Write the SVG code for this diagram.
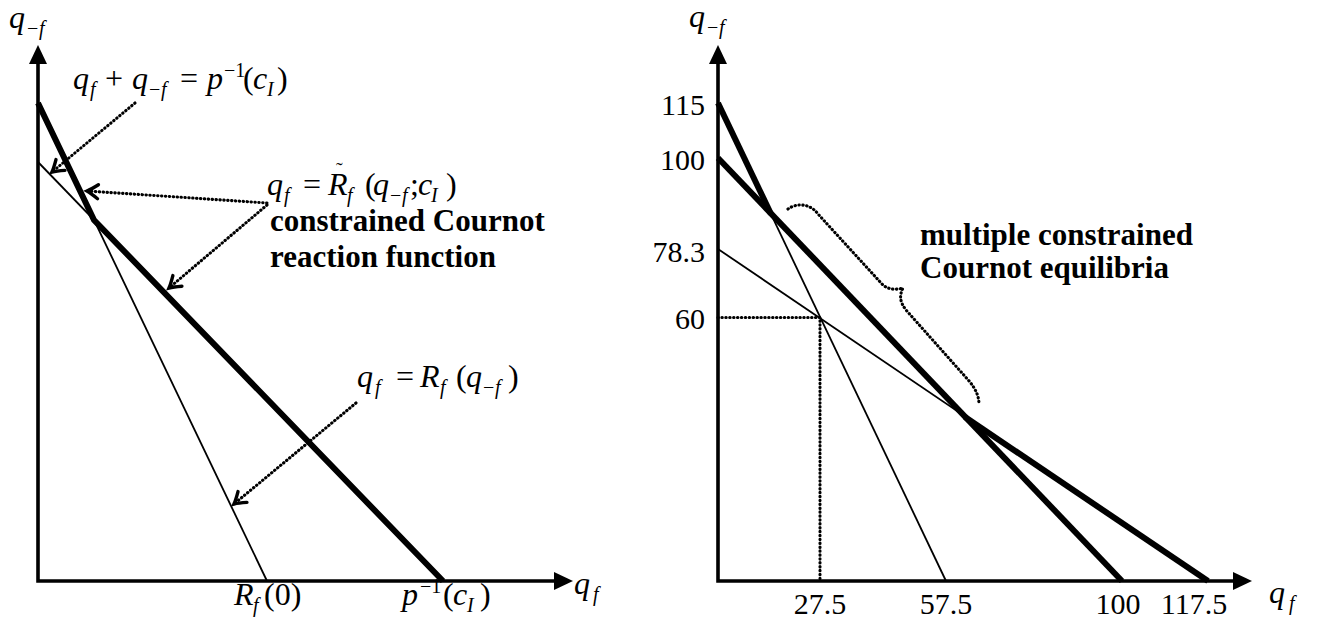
<svg xmlns="http://www.w3.org/2000/svg" width="1320" height="628" viewBox="0 0 1320 628">
<style>
.ax{stroke:#000;stroke-width:3.6;fill:none;stroke-linejoin:miter}
.thick{stroke:#000;stroke-width:6;fill:none;stroke-linejoin:miter}
.thin{stroke:#000;stroke-width:1.8;fill:none}
.dot{stroke:#000;stroke-width:3.1;stroke-linecap:round;stroke-dasharray:0.4 3.5;fill:none}
text{font-family:"Liberation Serif","Times New Roman",serif;fill:#000}
.it{font-style:italic;font-size:32px}
.rm{font-size:32px}
.s{font-size:20px}
.si{font-size:20px;font-style:italic}
.b{font-weight:bold;font-size:31px}
.n{font-size:30px}
</style>
<defs>
<marker id="ah" markerUnits="userSpaceOnUse" markerWidth="24" markerHeight="24" viewBox="-14 -12 24 24" refX="0" refY="0" orient="auto">
<path d="M-11,-7 Q-4,-2 0,0 Q-4,2 -11,7" fill="none" stroke="#000" stroke-width="3.4" stroke-dasharray="none" stroke-linecap="round" stroke-linejoin="miter"/>
</marker>
</defs>

<g id="left-axes">
<path class="ax" d="M38,60 V581 H558"/>
<polygon points="38,45 29,64 47,64"/>
<polygon points="573,581 554,572 554,590"/>
</g>
<g id="left-curves">
<line class="thin" x1="38" y1="103" x2="267" y2="581"/>
<line class="thin" x1="38" y1="162" x2="443" y2="581"/>
<polyline class="thick" points="38,103 94,220 443,581"/>
</g>
<g id="left-connectors">
<line class="dot" x1="135" y1="103" x2="52" y2="172" marker-end="url(#ah)"/>
<line class="dot" x1="267" y1="203" x2="87" y2="191" marker-end="url(#ah)"/>
<line class="dot" x1="267" y1="205" x2="169" y2="288" marker-end="url(#ah)"/>
<line class="dot" x1="356" y1="403" x2="234" y2="504" marker-end="url(#ah)"/>
</g>
<g id="left-labels">
<text><tspan class="it" x="9" y="28">q</tspan><tspan class="s" x="27" y="35">−</tspan><tspan class="si" x="39" y="35">f</tspan></text>
<text id="label-budget"><tspan class="it" x="73" y="89">q</tspan><tspan class="si" x="90" y="96">f</tspan><tspan class="rm" x="105" y="89">+</tspan><tspan class="it" x="132" y="89">q</tspan><tspan class="s" x="149" y="96">−</tspan><tspan class="si" x="161" y="96">f</tspan><tspan class="rm" x="180" y="89">=</tspan><tspan class="it" x="207" y="89">p</tspan><tspan class="s" x="224" y="77">−1</tspan><tspan class="rm" x="243" y="89">(</tspan><tspan class="it" x="253" y="89">c</tspan><tspan class="si" x="267" y="96">I</tspan><tspan class="rm" x="277" y="89">)</tspan></text>
<text id="label-constrained"><tspan class="it" x="267" y="195">q</tspan><tspan class="si" x="284" y="202">f</tspan><tspan class="rm" x="303" y="195">=</tspan><tspan class="it" x="328" y="195">R</tspan><tspan class="si" x="347" y="202">f</tspan><tspan class="rm" x="365" y="195">(</tspan><tspan class="it" x="373" y="195">q</tspan><tspan class="s" x="390" y="202">−</tspan><tspan class="si" x="402" y="202">f</tspan><tspan class="rm" x="410" y="195">;</tspan><tspan class="it" x="418" y="195">c</tspan><tspan class="si" x="431" y="202">I</tspan><tspan class="rm" x="446" y="195">)</tspan></text>
<text x="336" y="177" style="font-size:20px">˜</text>
<text class="b" x="270" y="231">constrained Cournot</text>
<text class="b" x="270" y="267">reaction function</text>
<text id="label-reaction"><tspan class="it" x="357" y="387">q</tspan><tspan class="si" x="375" y="394">f</tspan><tspan class="rm" x="396" y="387">=</tspan><tspan class="it" x="420" y="387">R</tspan><tspan class="si" x="440" y="394">f</tspan><tspan class="rm" x="456" y="387">(</tspan><tspan class="it" x="466" y="387">q</tspan><tspan class="s" x="483" y="394">−</tspan><tspan class="si" x="495" y="394">f</tspan><tspan class="rm" x="508" y="387">)</tspan></text>
<text><tspan class="it" x="234" y="605">R</tspan><tspan class="si" x="253" y="612">f</tspan><tspan class="rm" x="264" y="605">(0)</tspan></text>
<text><tspan class="it" x="402" y="605">p</tspan><tspan class="s" x="420" y="593">−1</tspan><tspan class="rm" x="443" y="605">(</tspan><tspan class="it" x="453" y="605">c</tspan><tspan class="si" x="467" y="612">I</tspan><tspan class="rm" x="480" y="605">)</tspan></text>
<text><tspan class="it" x="574" y="594">q</tspan><tspan class="si" x="593" y="601">f</tspan></text>
</g>

<g id="right-axes">
<path class="ax" d="M718,60 V581 H1238"/>
<polygon points="718,45 709,64 727,64"/>
<polygon points="1252,581 1233,572 1233,590"/>
</g>
<g id="right-curves">
<line class="thin" x1="718" y1="249" x2="1208" y2="581"/>
<line class="thin" x1="718" y1="103" x2="946" y2="581"/>
<line class="thick" x1="718" y1="158" x2="1122" y2="581"/>
<line class="thick" x1="718" y1="103" x2="771" y2="214"/>
<line class="thick" x1="965" y1="417" x2="1208" y2="581"/>
</g>
<g id="right-connectors">
<polyline class="dot" points="718,317.5 820,317.5 820,581"/>
<path class="dot" d="M788,209 C796,203 810,203 818,214 L882,284 C888,290 896,290 903,288 C899,296 900,302 906,310 L970,382 C976,390 979,396 979,405"/>
</g>
<g id="right-labels">
<text><tspan class="it" x="689" y="27">q</tspan><tspan class="s" x="707" y="34">−</tspan><tspan class="si" x="719" y="34">f</tspan></text>
<text class="n" text-anchor="end" x="705" y="115">115</text>
<text class="n" text-anchor="end" x="705" y="170">100</text>
<text class="n" text-anchor="end" x="705" y="262">78.3</text>
<text class="n" text-anchor="end" x="705" y="329">60</text>
<text class="n" text-anchor="middle" x="820" y="614">27.5</text>
<text class="n" text-anchor="middle" x="946" y="614">57.5</text>
<text class="n" text-anchor="middle" x="1118" y="614">100</text>
<text class="n" text-anchor="middle" x="1194" y="614">117.5</text>
<text><tspan class="it" x="1269" y="603">q</tspan><tspan class="si" x="1289" y="610">f</tspan></text>
<text class="b" x="920" y="245">multiple constrained</text>
<text class="b" x="920" y="278">Cournot equilibria</text>
</g>
</svg>
